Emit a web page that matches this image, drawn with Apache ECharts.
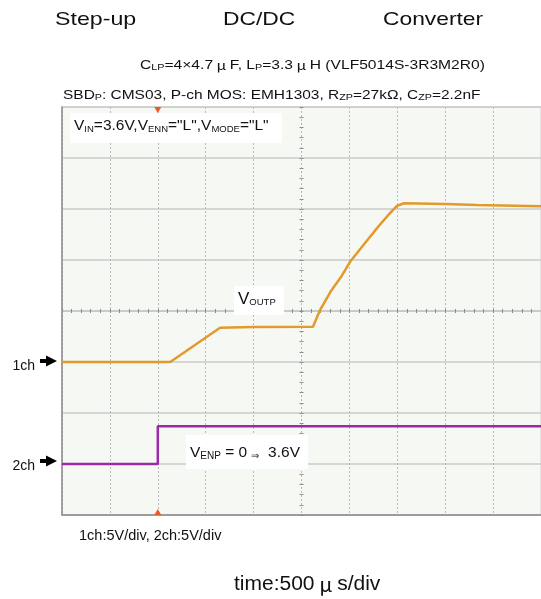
<!DOCTYPE html>
<html><head><meta charset="utf-8">
<script src="https://cdn.jsdelivr.net/npm/echarts@6/dist/echarts.min.js"></script>
<style>html,body{margin:0;padding:0;background:#fff}#c{width:541px;height:599px}</style>
</head><body><div id="c"></div>
<script>
// ---- data (time in microseconds, voltages in volts) ----
const ch1Time  = [-1000, 130, 650, 1000, 1620, 1690, 1810, 1910, 2015, 2155, 2295, 2415, 2500, 2570, 3000, 3330, 4000];
const ch1Volts = [0, 0, 3.36, 3.42, 3.45, 5.03, 6.99, 8.30, 9.93, 11.57, 13.2, 14.51, 15.32, 15.56, 15.49, 15.39, 15.26];
const ch2Time  = [-1000, 0, 0, 4000];
const ch2Volts = [0, 0, 3.7, 3.7];
const timeMin = -1000, timeMax = 4000, timeStep = 500;   // 500 us/div
const ch1Min = -15, ch1Max = 25, voltStep = 5;           // 5 V/div
const ch2Min = -5, ch2Max = 35;
const triggerTime = 0;

const FONT = '"Liberation Sans", Arial, sans-serif';
const CJK = '"Noto Sans CJK JP", sans-serif';
const chart = echarts.init(document.getElementById('c'), null, {renderer: 'canvas'});

const zip = (a, b) => a.map((v, i) => [v, b[i]]);
const axisOff = {axisLabel: {show: false}, axisTick: {show: false}, splitLine: {show: false}};

function txt(x, y, text, size, extra, align) {
  return Object.assign({type: 'text', x: x, y: y, z: 20,
    style: {text: text, fontFamily: FONT, fontSize: size, fill: '#111', verticalAlign: 'middle', textAlign: align || 'left'}}, extra || {});
}
function richTxt(x, y, text, size, subSize, extra) {
  return Object.assign({type: 'text', x: x, y: y, z: 20,
    style: {text: text, fontFamily: FONT, fontSize: size, fill: '#111', verticalAlign: 'middle', textAlign: 'left',
      rich: {
        t: {fontFamily: FONT, fontSize: size, fill: '#111'},
        s: {fontFamily: FONT, fontSize: subSize, fill: '#111', verticalAlign: 'bottom'},
        mu: {fontFamily: CJK, fontSize: size, fill: '#111'}
      }}}, extra || {});
}

const option = {
  animation: false,
  backgroundColor: '#ffffff',
  grid: {left: 62, top: 107, width: 482, height: 408, show: true, backgroundColor: '#f6f8f4', borderColor: '#d0d0d0', borderWidth: 1},
  xAxis: [
    {type: 'value', min: timeMin, max: timeMax, interval: timeStep, position: 'bottom',
     axisLine: {onZero: false, lineStyle: {color: '#8c8c8c', width: 1.5}},
     axisTick: {show: false}, axisLabel: {show: false},
     splitLine: {show: true, lineStyle: {color: '#b9b9b9', type: [2, 2], width: 1}}},
    Object.assign({type: 'value', min: -2500, max: 2500, show: false}, axisOff),
    {type: 'value', min: timeMin, max: timeMax, interval: timeStep,
     axisLine: {show: true, onZero: true, onZeroAxisIndex: 2, lineStyle: {color: '#c6c6c6', width: 1.5}},
     axisTick: {show: true, length: 2, lineStyle: {color: '#8a8a8a'}},
     minorTick: {show: true, splitNumber: 5, length: 2, lineStyle: {color: '#8a8a8a'}},
     axisLabel: {show: false}, splitLine: {show: false}},
    {type: 'value', min: timeMin, max: timeMax, interval: timeStep,
     axisLine: {show: false, onZero: true, onZeroAxisIndex: 2},
     axisTick: {show: true, inside: true, length: 2, lineStyle: {color: '#8a8a8a'}},
     minorTick: {show: true, splitNumber: 5, length: 2, lineStyle: {color: '#8a8a8a'}},
     axisLabel: {show: false}, splitLine: {show: false}}
  ],
  yAxis: [
    {type: 'value', min: ch1Min, max: ch1Max, interval: voltStep, position: 'left',
     axisLine: {onZero: false, lineStyle: {color: '#8c8c8c', width: 1.5}},
     axisTick: {show: false}, axisLabel: {show: false},
     splitLine: {show: true, lineStyle: {color: '#cbcbcb', width: 1.5}}},
    Object.assign({type: 'value', min: ch2Min, max: ch2Max, show: false}, axisOff),
    Object.assign({type: 'value', min: -20, max: 20, show: false}, axisOff),
    {type: 'value', min: ch1Min, max: ch1Max, interval: voltStep,
     axisLine: {show: false, onZero: true, onZeroAxisIndex: 1},
     axisTick: {show: true, length: 2, lineStyle: {color: '#8a8a8a'}},
     minorTick: {show: true, splitNumber: 5, length: 2, lineStyle: {color: '#8a8a8a'}},
     axisLabel: {show: false}, splitLine: {show: false}},
    {type: 'value', min: ch1Min, max: ch1Max, interval: voltStep,
     axisLine: {show: false, onZero: true, onZeroAxisIndex: 1},
     axisTick: {show: true, inside: true, length: 2, lineStyle: {color: '#8a8a8a'}},
     minorTick: {show: true, splitNumber: 5, length: 2, lineStyle: {color: '#8a8a8a'}},
     axisLabel: {show: false}, splitLine: {show: false}}
  ],
  series: [
    {name: '1ch', type: 'line', xAxisIndex: 0, yAxisIndex: 0, data: zip(ch1Time, ch1Volts),
     showSymbol: false, z: 5, lineStyle: {color: '#e39a2c', width: 2.5}},
    {name: '2ch', type: 'line', xAxisIndex: 0, yAxisIndex: 1, data: zip(ch2Time, ch2Volts),
     showSymbol: false, z: 5, lineStyle: {color: '#9b2aa8', width: 2.5},
     markPoint: {silent: true, label: {show: false},
       data: [
         {coord: [triggerTime, ch2Max], symbol: 'triangle', symbolRotate: 180, symbolSize: [7, 6], symbolOffset: [0, 3], itemStyle: {color: '#f0582a'}},
         {coord: [triggerTime, ch2Min], symbol: 'triangle', symbolSize: [7, 6], symbolOffset: [0, -3], itemStyle: {color: '#f0582a'}}
       ]}}
  ]
};
chart.setOption(option);

// channel reference positions from the library's scales
const y1 = chart.convertToPixel({xAxisIndex: 0, yAxisIndex: 0}, [timeMin, 0])[1];
const y2 = chart.convertToPixel({xAxisIndex: 0, yAxisIndex: 1}, [timeMin, 0])[1];

function arrow(y) {
  return {type: 'group', z: 20, children: [
    {type: 'rect', shape: {x: 40, y: y - 2, width: 9, height: 4}, style: {fill: '#000'}},
    {type: 'polygon', shape: {points: [[46, y - 5.5], [57, y], [46, y + 5.5]]}, style: {fill: '#000'}}
  ]};
}

chart.setOption({graphic: [
  txt(55, 20, 'Step-up', 19, {scaleX: 1.22}),
  txt(223, 20, 'DC/DC', 19, {scaleX: 1.2}),
  txt(383, 20, 'Converter', 19, {scaleX: 1.2}),
  richTxt(140, 65.5, '{t|C}{s|LP}{t|=4×4.7}{mu| μ }{t|F, L}{s|P}{t|=3.3}{mu| μ }{t|H (VLF5014S-3R3M2R0)}', 13, 9, {scaleX: 1.2}),
  richTxt(63, 95.5, '{t|SBD}{s|P}{t|: CMS03, P-ch MOS: EMH1303, R}{s|ZP}{t|=27kΩ, C}{s|ZP}{t|=2.2nF}', 13, 9, {scaleX: 1.19}),
  {type: 'rect', z: 15, shape: {x: 70, y: 113, width: 212, height: 30}, style: {fill: '#fff'}},
  richTxt(74, 126, '{t|V}{s|IN}{t|=3.6V,V}{s|ENN}{t|="L",V}{s|MODE}{t|="L"}', 15.5, 9.5),
  {type: 'rect', z: 15, shape: {x: 234, y: 286, width: 50, height: 29}, style: {fill: '#fff'}},
  richTxt(238, 299, '{t|V}{s|OUTP}', 17, 9.5),
  {type: 'rect', z: 15, shape: {x: 186, y: 435, width: 122, height: 34}, style: {fill: '#fff'}},
  richTxt(190, 453, '{t|V}{s|ENP}{t| = 0 }{s|⇒}{t|  3.6V}', 15.5, 10),
  txt(35, y1 + 4, '1ch', 14, null, 'right'),
  arrow(y1 - 1),
  txt(35, y2 + 2, '2ch', 14, null, 'right'),
  arrow(y2 - 3),
  txt(79, 535.5, '1ch:5V/div, 2ch:5V/div', 14.5),
  richTxt(234, 584.5, '{t|time:500}{mu| μ }{t|s/div}', 20, 12, {scaleX: 1.05})
]});
</script>
</body></html>
